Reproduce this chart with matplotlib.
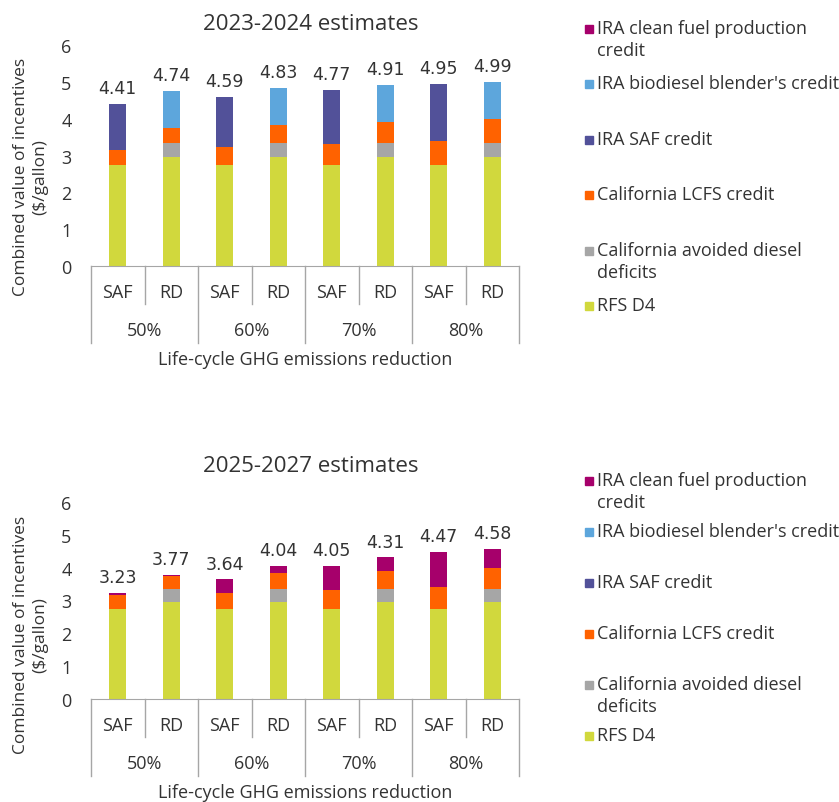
import numpy as np
import matplotlib.pyplot as plt
from matplotlib.patches import Rectangle
from matplotlib.lines import Line2D

plt.rcParams['font.family'] = ['Open Sans', 'DejaVu Sans']

# categories
fuels = ['SAF', 'RD', 'SAF', 'RD', 'SAF', 'RD', 'SAF', 'RD']
reductions = ['50%', '60%', '70%', '80%']

# $/gallon components, stacked bottom to top
rfs_d4 = [2.75, 2.95, 2.75, 2.95, 2.75, 2.95, 2.75, 2.95]
ca_avoided = [0, 0.39, 0, 0.39, 0, 0.39, 0, 0.39]
ca_lcfs = [0.41, 0.40, 0.49, 0.49, 0.57, 0.57, 0.65, 0.65]
saf_credit_2324 = [1.25, 0, 1.35, 0, 1.45, 0, 1.55, 0]
blender_2324 = [0, 1.00, 0, 1.00, 0, 1.00, 0, 1.00]
cfpc_2527 = [0.07, 0.03, 0.40, 0.21, 0.73, 0.40, 1.07, 0.59]
zeros = [0] * 8

names = ['RFS D4', 'California avoided diesel\ndeficits', 'California LCFS credit',
         'IRA SAF credit', "IRA biodiesel blender's credit",
         'IRA clean fuel production\ncredit']
colors = ['#D1D83D', '#A6A6A6', '#FF6200', '#525199', '#5DA6DC', '#A6006B']

panels = [
    ('2023-2024 estimates', [rfs_d4, ca_avoided, ca_lcfs, saf_credit_2324, blender_2324, zeros]),
    ('2025-2027 estimates', [rfs_d4, ca_avoided, ca_lcfs, zeros, zeros, cfpc_2527]),
]

W, H = 839, 803
fig = plt.figure(figsize=(W / 100, H / 100), dpi=100)

# axes boxes in pixels: left, x0 line y, top (y=6) y
boxes = [(91, 267, 46), (91, 700, 503)]
ax_right = 519
title_y = [24, 467]
ylab_y = [177, 635]
legend_top = [30, 482]
legend_step = [55.4, 51.0]

gray = '#A6A6A6'
txt = '#333333'
fs = 13

x = np.arange(len(fuels))
for i, (title, layers) in enumerate(panels):
    left, y0, y6 = boxes[i]
    ax = fig.add_axes([left / W, 1 - y0 / H, (ax_right - left) / W, (y0 - y6) / H])
    ax_h = y0 - y6

    bottom = np.zeros(len(fuels))
    for vals, c in zip(layers, colors):
        v = np.array(vals, dtype=float)
        ax.bar(x, v, width=0.32, bottom=bottom, color=c, linewidth=0)
        bottom += v
    for xi, tot in zip(x, bottom):
        ax.annotate(f'{tot:.2f}', (xi, tot), xytext=(0, 5), textcoords='offset points',
                    ha='center', va='bottom', fontsize=12.5, color=txt,
                    family='DejaVu Sans')

    ax.set_xlim(-0.5, len(fuels) - 0.5)
    ax.set_ylim(0, 6)
    ax.set_yticks(range(7))
    ax.tick_params(axis='y', length=0, pad=14, labelsize=13, labelcolor=txt)
    ax.set_xticks([])
    for s in ['top', 'right', 'left']:
        ax.spines[s].set_visible(False)
    ax.spines['bottom'].set_color(gray)

    # two-level category axis
    tr = ax.get_xaxis_transform()
    short = -38 / ax_h
    full = -77 / ax_h
    for k in range(len(fuels) + 1):
        xe = k - 0.5
        yb = full if k % 2 == 0 else short
        ax.add_line(Line2D([xe, xe], [0, yb], transform=tr, color=gray, lw=1, clip_on=False))
    for xi, f in zip(x, fuels):
        ax.text(xi, -26 / ax_h, f, transform=tr, ha='center', va='center', fontsize=fs, color=txt)
    for g, r in enumerate(reductions):
        ax.text(2 * g + 0.5, -64 / ax_h, r, transform=tr, ha='center', va='center',
                fontsize=fs, color=txt)
    ax.text(3.5, -93 / ax_h, 'Life-cycle GHG emissions reduction', transform=tr,
            ha='center', va='center', fontsize=fs, color=txt)

    fig.text(311 / W, 1 - title_y[i] / H, title, ha='center', va='center',
             fontsize=16, color=txt)
    fig.text(31 / W, 1 - ylab_y[i] / H, 'Combined value of incentives\n($/gallon)',
             rotation=90, ha='center', va='center', fontsize=12.5, color=txt,
             linespacing=1.25)

    # legend, top entry first
    for j, (n, c) in enumerate(zip(names[::-1], colors[::-1])):
        ym = legend_top[i] + j * legend_step[i]
        fig.patches.append(Rectangle((585 / W, 1 - (ym + 4) / H), 8 / W, 8 / H,
                                     transform=fig.transFigure, color=c))
        fig.text(597 / W, 1 - (ym - 10) / H, n, ha='left', va='top', fontsize=fs,
                 color=txt, linespacing=1.3)

fig.savefig('out.png', dpi=100, facecolor='white')
